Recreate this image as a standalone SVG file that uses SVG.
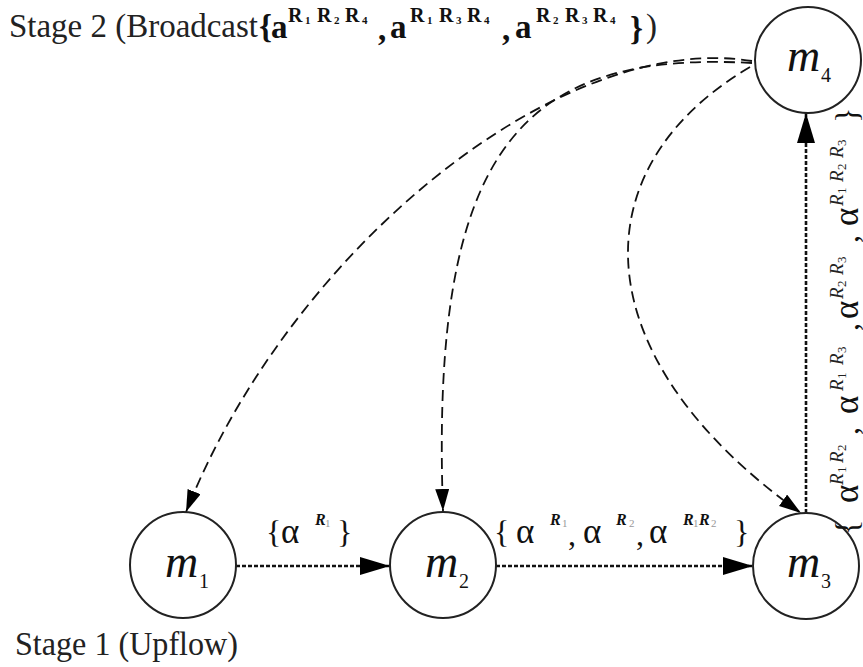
<svg xmlns="http://www.w3.org/2000/svg" width="863" height="667" viewBox="0 0 863 667">
  <style>
    .node circle { fill: #fff; stroke: #222; stroke-width: 2; }
    .m { font-family: "Liberation Serif", serif; font-style: italic; font-size: 46px; fill: #111; }
    .sub { font-family: "Liberation Serif", serif; font-size: 20px; fill: #111; }
    .cap { font-family: "Liberation Serif", serif; font-size: 33px; fill: #222; }
    .b { font-family: "Liberation Serif", serif; font-weight: bold; fill: #111; }
    .lbl { font-family: "Liberation Serif", serif; font-size: 32px; fill: #111; }
    .al { font-family: "Liberation Serif", serif; font-size: 35px; fill: #111; }
    .supR { font-family: "Liberation Serif", serif; font-style: italic; font-weight: bold; font-size: 16px; fill: #111; }
    .supD { font-family: "Liberation Serif", serif; font-size: 11px; fill: #999; }
    .vR { font-family: "Liberation Serif", serif; font-style: italic; font-size: 19px; fill: #222; }
    .vD { font-family: "Liberation Serif", serif; font-size: 13px; fill: #222; }
    .dotted { fill: none; stroke: #111; stroke-width: 2.6; stroke-dasharray: 4 2; }
    .dashed { fill: none; stroke: #111; stroke-width: 1.8; stroke-dasharray: 11 6; }
  </style>
  <defs>
    <marker id="headBig" markerUnits="userSpaceOnUse" markerWidth="30" markerHeight="20" refX="30" refY="9" orient="auto">
      <path d="M0,0 L30,9 L0,18 Z" fill="#000"/>
    </marker>
    <marker id="headSmall" markerUnits="userSpaceOnUse" markerWidth="22" markerHeight="16" refX="22" refY="7" orient="auto">
      <path d="M0,0 L22,7 L0,14 Z" fill="#000"/>
    </marker>
  </defs>

  <rect width="863" height="667" fill="#fff"/>

  <!-- connectors -->
  <g id="connectors">
    <path class="dotted" d="M236,566 L390,566" marker-end="url(#headBig)"/>
    <path class="dotted" d="M496,566 L753,566" marker-end="url(#headBig)"/>
    <path class="dotted" d="M806,513 L806,113" marker-end="url(#headBig)"/>
    <path class="dashed" d="M752,61 C560,30 290,250 186,512" marker-end="url(#headSmall)"/>
    <path class="dashed" d="M752,63 C520,50 430,150 443,511" marker-end="url(#headSmall)"/>
    <path class="dashed" d="M750,67 C575,170 585,360 801,513" marker-end="url(#headSmall)"/>
  </g>

  <!-- nodes -->
  <g id="m1" class="node">
    <circle cx="183" cy="565" r="53"/>
    <text class="m" x="165" y="577">m</text>
    <text class="sub" x="199" y="588">1</text>
  </g>
  <g id="m2" class="node">
    <circle cx="443" cy="565" r="53"/>
    <text class="m" x="425" y="577">m</text>
    <text class="sub" x="459" y="588">2</text>
  </g>
  <g id="m3" class="node">
    <circle cx="806" cy="566" r="53"/>
    <text class="m" x="787" y="577">m</text>
    <text class="sub" x="821" y="588">3</text>
  </g>
  <g id="m4" class="node">
    <circle cx="808" cy="60" r="53"/>
    <text class="m" x="787" y="71">m</text>
    <text class="sub" x="821" y="82">4</text>
  </g>

  <!-- edge labels -->
  <g id="label-m1-m2">
    <text class="lbl" x="266" y="543">{</text>
    <text class="al" x="281" y="543">α</text>
    <text class="supR" x="315" y="525">R</text>
    <text class="supD" x="325" y="527">1</text>
    <text class="lbl" x="337" y="543">}</text>
  </g>
  <g id="label-m2-m3">
    <text class="lbl" x="494" y="543">{</text>
    <text class="al" x="516" y="543">α</text>
    <text class="supR" x="550" y="525">R</text>
    <text class="supD" x="562" y="527">1</text>
    <text class="lbl" x="568" y="545">,</text>
    <text class="al" x="583" y="543">α</text>
    <text class="supR" x="616" y="525">R</text>
    <text class="supD" x="629" y="527">2</text>
    <text class="lbl" x="636" y="545">,</text>
    <text class="al" x="649" y="543">α</text>
    <text class="supR" x="683" y="525">R</text>
    <text class="supD" x="693" y="527">1</text>
    <text class="supR" x="699" y="525">R</text>
    <text class="supD" x="711" y="527">2</text>
    <text class="lbl" x="734" y="543">}</text>
  </g>
  <g id="label-m3-m4" transform="translate(858,535) rotate(-90)">
    <text class="lbl" x="0" y="0">{</text>
    <text class="al" x="32" y="0">α</text>
    <text class="vR" x="50" y="-15">R</text>
    <text class="vD" x="62" y="-12">1</text>
    <text class="vR" x="72" y="-15">R</text>
    <text class="vD" x="84" y="-12">2</text>
    <text class="lbl" x="100" y="0">,</text>
    <text class="al" x="121" y="0">α</text>
    <text class="vR" x="144" y="-15">R</text>
    <text class="vD" x="156" y="-12">1</text>
    <text class="vR" x="170" y="-15">R</text>
    <text class="vD" x="182" y="-12">3</text>
    <text class="lbl" x="204" y="0">,</text>
    <text class="al" x="216" y="0">α</text>
    <text class="vR" x="236" y="-15">R</text>
    <text class="vD" x="248" y="-12">2</text>
    <text class="vR" x="260" y="-15">R</text>
    <text class="vD" x="272" y="-12">3</text>
    <text class="lbl" x="292" y="0">,</text>
    <text class="al" x="309" y="0">α</text>
    <text class="vR" x="329" y="-15">R</text>
    <text class="vD" x="341" y="-12">1</text>
    <text class="vR" x="353" y="-15">R</text>
    <text class="vD" x="365" y="-12">2</text>
    <text class="vR" x="377" y="-15">R</text>
    <text class="vD" x="389" y="-12">3</text>
    <text class="lbl" x="412" y="0">}</text>
  </g>

  <!-- stage captions -->
  <g id="stage2">
    <text class="cap" x="9" y="37" textLength="249" lengthAdjust="spacingAndGlyphs">Stage 2 (Broadcast</text>
    <text class="b" x="259" y="38" font-size="33">{</text>
    <text class="b" x="271" y="38" font-size="33">a</text>
    <text class="b" x="288" y="22" font-size="20">R</text>
    <text class="b" x="305" y="24" font-size="11">1</text>
    <text class="b" x="317" y="22" font-size="20">R</text>
    <text class="b" x="334" y="24" font-size="11">2</text>
    <text class="b" x="345" y="22" font-size="20">R</text>
    <text class="b" x="362" y="24" font-size="11">4</text>
    <text class="b" x="378" y="40" font-size="33">,</text>
    <text class="b" x="390" y="38" font-size="33">a</text>
    <text class="b" x="410" y="22" font-size="20">R</text>
    <text class="b" x="427" y="24" font-size="11">1</text>
    <text class="b" x="439" y="22" font-size="20">R</text>
    <text class="b" x="456" y="24" font-size="11">3</text>
    <text class="b" x="467" y="22" font-size="20">R</text>
    <text class="b" x="484" y="24" font-size="11">4</text>
    <text class="b" x="502" y="40" font-size="33">,</text>
    <text class="b" x="515" y="38" font-size="33">a</text>
    <text class="b" x="536" y="22" font-size="20">R</text>
    <text class="b" x="553" y="24" font-size="11">2</text>
    <text class="b" x="565" y="22" font-size="20">R</text>
    <text class="b" x="582" y="24" font-size="11">3</text>
    <text class="b" x="593" y="22" font-size="20">R</text>
    <text class="b" x="610" y="24" font-size="11">4</text>
    <text class="b" x="630" y="40" font-size="33">}</text>
    <text class="cap" x="646" y="37">)</text>
  </g>
  <g id="stage1">
    <text class="cap" x="15" y="655" textLength="223" lengthAdjust="spacingAndGlyphs">Stage 1 (Upflow)</text>
  </g>
</svg>
